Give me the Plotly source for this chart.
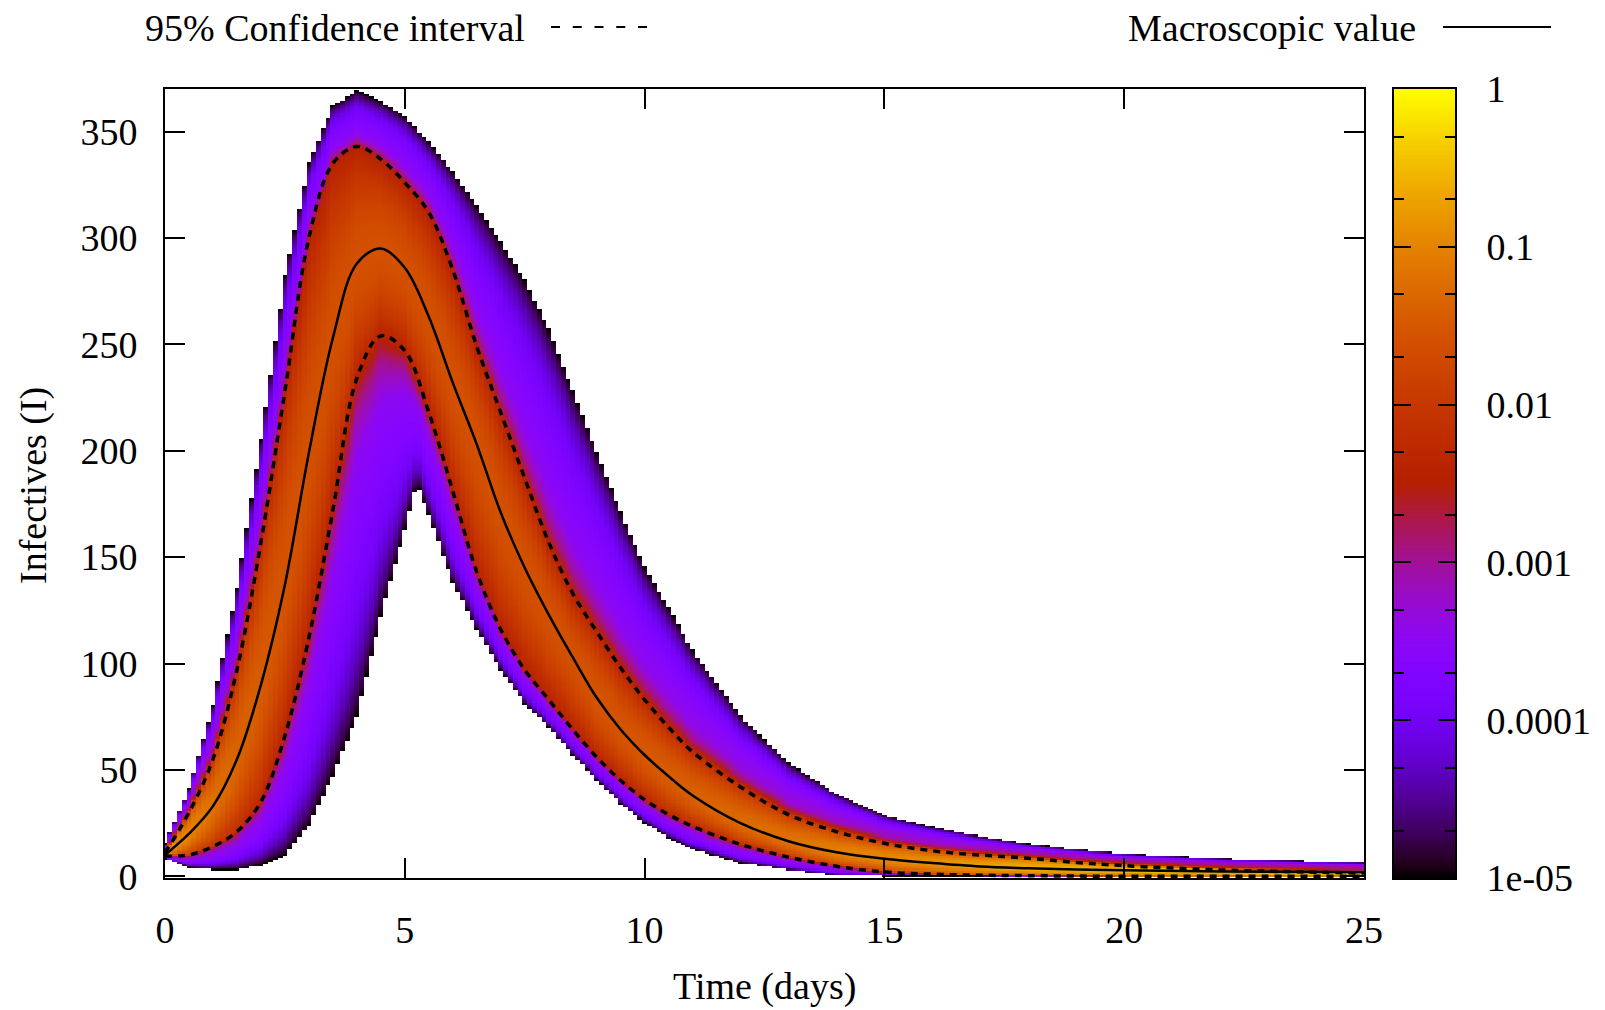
import numpy as np
import plotly.graph_objects as go

# ---------------- data ----------------
time_days = [0, 0.5, 1, 1.5, 2, 2.5, 3, 3.5, 4, 4.5,
             5, 5.5, 6, 6.5, 7, 7.5, 8, 8.5, 9, 9.5,
             10, 10.5, 11, 12, 13, 14, 15, 16, 17, 18,
             19, 20, 22, 25]
macroscopic = [10, 20, 33, 55, 90, 137, 199, 253, 288, 295,
               286, 263, 232, 203, 171, 145, 123, 103, 84, 69,
               57, 47, 38, 25, 16.5, 11.3, 8.2, 6.2, 4.6, 3.8,
               3.2, 2.8, 2.3, 1.9]
ci_upper = [11, 30, 55, 97, 157, 228, 300, 335, 343, 337,
            326, 312, 285, 249, 218, 187, 157, 133, 115, 98,
            83, 70, 58.5, 42, 29, 21, 15.5, 12, 10, 8.5,
            6.5, 5, 3, 1.5]
ci_lower = [9.5, 10, 14, 21, 35, 66, 112, 172, 234, 254,
            247, 218, 181, 143, 116, 97, 83, 69, 56, 45,
            36, 29, 23.5, 15, 9, 4.7, 2, 1, 0.5, 0.3,
            0.1, 0, 0, 0]
peak_log10 = [-0.8, -1.0, -1.2, -1.35, -1.45, -1.55, -1.6, -1.6, -1.6, -1.6,
              -1.6, -1.6, -1.6, -1.6, -1.6, -1.6, -1.6, -1.6, -1.55, -1.55,
              -1.5, -1.45, -1.4, -1.3, -1.2, -1.05, -0.95, -0.85, -0.75, -0.65,
              -0.6, -0.55, -0.45, -0.35]

# outer limits of the coloured (non-zero probability) region
edge_time = [0, 0.5, 1, 1.5, 2, 2.5, 3, 3.5, 4, 4.5,
             5, 5.25, 5.5, 6, 6.5, 7, 7.5, 8, 8.5, 9,
             9.5, 10, 10.5, 11, 12, 13, 14, 15, 16, 17,
             18, 19, 20, 22, 25]
edge_upper = [15, 41, 80, 135, 205, 282, 335, 362, 369, 364,
              357, 351, 345, 331, 315, 298, 280, 257, 228, 199,
              171, 145, 126, 106, 75, 53, 38.5, 28.5, 23, 18.7,
              15, 12.5, 10.5, 8.2, 6.2]
edge_lower = [8, 4, 3, 3, 5, 10, 24, 47, 75, 122,
              163, 185, 170, 138, 116, 97, 81, 70, 57, 45,
              34, 25, 18, 12.6, 6, 2.7, 0.5, 0, 0, 0,
              0, 0, 0, 0, 0]

x_ticks = [0, 5, 10, 15, 20, 25]
y_ticks = [0, 50, 100, 150, 200, 250, 300, 350]
cb_tickvals = [-5, -4, -3, -2, -1, 0]
cb_ticktext = ["1e-05", "0.0001", "0.001", "0.01", "0.1", "1"]

# ---------------- gnuplot "traditional pm3d" palette (7,5,15) ----------------
def gp_rgb(x):
    r = np.sqrt(x)
    g = x ** 3
    b = np.clip(np.sin(2 * np.pi * x), 0, 1)
    return "rgb(%d,%d,%d)" % (round(255 * r), round(255 * g), round(255 * b))

colorscale = [[float(v), gp_rgb(v)] for v in np.linspace(0, 1, 61)]

# ---------------- probability map built from the curves above ----------------
T = np.round(np.arange(0, 25 + 1e-9, 0.1), 3)
I = np.arange(0, 371, 1.0)
m = np.interp(T, time_days, macroscopic)
uc = np.interp(T, time_days, ci_upper)
lc = np.interp(T, time_days, ci_lower)
P = np.interp(T, time_days, peak_log10)
ue = np.maximum(np.interp(T, edge_time, edge_upper), uc + 1)
le = np.minimum(np.interp(T, edge_time, edge_lower), lc)
c = np.clip(m, lc + 0.25 * (uc - lc), uc - 0.25 * (uc - lc))

Ig = I[:, None]
above = Ig >= c
u = np.where(above, (Ig - c) / np.maximum(uc - c, 0.3), (c - Ig) / np.maximum(c - lc, 0.3))
s = np.where(above, (Ig - uc) / np.maximum(ue - uc, 0.5), (lc - Ig) / np.maximum(lc - le, 0.5))
Lci = P - 0.83
f = np.interp(s, [0, 0.1, 0.25, 0.5, 0.7, 0.85, 0.95, 1.0],
              [0, 0.22, 0.42, 0.5, 0.6, 0.76, 0.9, 1.0])
L = np.where(u <= 1, P - 0.83 * u ** 2, Lci + (-5 - Lci) * f)
L = np.where((u > 1) & (s > 1), np.nan, L)
L = L.astype(np.float32)

# ---------------- figure ----------------
# page body has an 8px margin, so the figure is 8px smaller than the window
W, H = 1597, 1002
ML, MR, MT, MB = 157, 100, 81, 132
PW, PH = W - ML - MR, H - MT - MB


def xp(px):  # reference-picture pixel -> paper
    return (px - 165) / PW


def yp(py):
    return (878 - py) / PH


FONT = "Liberation Serif"
FS = 38

fig = go.Figure()
fig.add_trace(go.Heatmap(x=T, y=I, z=L, zmin=-5, zmax=0, colorscale=colorscale,
                         showscale=False, hoverinfo="skip", zsmooth=False))
DASH = "7px,6px"
fig.add_trace(go.Scatter(x=time_days, y=ci_upper, mode="lines", showlegend=False,
                         line=dict(color="black", width=3.5, dash=DASH, shape="spline")))
fig.add_trace(go.Scatter(x=time_days, y=ci_lower, mode="lines", showlegend=False,
                         line=dict(color="black", width=3.5, dash=DASH, shape="spline")))
fig.add_trace(go.Scatter(x=time_days, y=macroscopic, mode="lines", showlegend=False,
                         line=dict(color="black", width=2.5, shape="spline")))

# colour box as its own small axes
cb_vals = np.linspace(-5, 0, 401)
fig.add_trace(go.Heatmap(x=[0], y=cb_vals, z=cb_vals.reshape(-1, 1), zmin=-5, zmax=0,
                         colorscale=colorscale, showscale=False, hoverinfo="skip",
                         xaxis="x2", yaxis="y2"))

tickfont = dict(family=FONT, size=FS, color="black")
common = dict(showline=True, linewidth=2, linecolor="black", mirror="ticks",
              ticks="inside", ticklen=20, tickwidth=1.5, tickcolor="black",
              showgrid=False, zeroline=False, tickfont=tickfont)

minor_vals = []
for k in range(-5, 0):
    minor_vals += [k + np.log10(2), k + np.log10(5)]

fig.update_layout(
    width=W, height=H, margin=dict(l=ML, r=MR, t=MT, b=MB, autoexpand=False),
    paper_bgcolor="white", plot_bgcolor="white", showlegend=False,
    xaxis=dict(domain=[0, xp(1364)], range=[0, 25], tickvals=x_ticks,
               ticklabelstandoff=17, **common),
    yaxis=dict(domain=[0, 1], range=[-0.8, 370], tickvals=y_ticks,
               ticklabelstandoff=18, **common),
    xaxis2=dict(domain=[xp(1394), xp(1455)], anchor="y2", range=[-0.5, 0.5],
                showticklabels=False, ticks="", showline=True, linewidth=2,
                linecolor="black", mirror=True, showgrid=False, zeroline=False),
    yaxis2=dict(domain=[0, 1], anchor="x2", side="right", range=[-5, 0],
                tickvals=cb_tickvals, ticktext=cb_ticktext, ticks="inside",
                ticklen=17, tickwidth=1.5, tickcolor="black", mirror="ticks",
                showline=True, linewidth=2, linecolor="black", showgrid=False,
                zeroline=False, tickfont=tickfont, ticklabelstandoff=22,
                minor=dict(tickvals=minor_vals, ticks="inside", ticklen=10,
                           tickwidth=1.5, tickcolor="black", showgrid=False)),
)

annotations = [
    dict(text="95% Confidence interval", x=xp(143), y=yp(28), xanchor="left", yanchor="middle"),
    dict(text="Macroscopic value", x=xp(1126), y=yp(28), xanchor="left", yanchor="middle"),
    dict(text="Time (days)", x=xp(764), y=yp(986), xanchor="center", yanchor="middle"),
    dict(text="Infectives (I)", x=xp(33), y=yp(486), xanchor="center", yanchor="middle",
         textangle=-90),
]
for a in annotations:
    a.update(xref="paper", yref="paper", showarrow=False, font=tickfont)
fig.update_layout(annotations=annotations)

fig.add_shape(type="line", xref="paper", yref="paper", x0=xp(551), x1=xp(647),
              y0=yp(27), y1=yp(27), line=dict(color="black", width=2, dash="9px,12.75px"))
fig.add_shape(type="line", xref="paper", yref="paper", x0=xp(1443), x1=xp(1551),
              y0=yp(27), y1=yp(27), line=dict(color="black", width=2))

fig.write_html("out.html")
